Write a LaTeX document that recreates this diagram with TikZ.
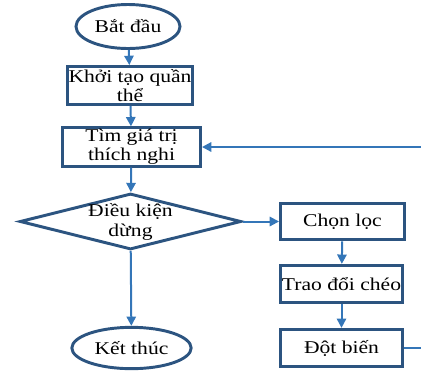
\documentclass[tikz,border=0pt]{standalone}
\usepackage{fontspec}
\setmainfont{Liberation Serif}[FakeStretch=1.2]
\usetikzlibrary{shapes.geometric,arrows.meta}

\definecolor{boxblue}{RGB}{44,84,128}
\definecolor{flowblue}{RGB}{52,118,184}

\tikzset{
  stepbox/.style={draw=boxblue, line width=2.2pt, rectangle, inner sep=1pt, align=center,
    font=\fontsize{13.5}{14.5}\selectfont},
  termbox/.style={draw=boxblue, line width=2.2pt, ellipse, inner sep=1pt,
    font=\fontsize{13.5}{14.5}\selectfont},
  flow/.style={draw=flowblue, line width=1.5pt, -{Triangle[width=7pt,length=7pt]}},
}

\begin{document}
\begin{tikzpicture}[x=0.75pt,y=0.75pt,yscale=-1,xscale=1]
                        \useasboundingbox (0,0) rectangle (421,376);

                        % Terminal Node
                        \node [termbox, minimum width=78pt, minimum height=33pt] (start) at (128,26.5) {Bắt đầu};
                        % Step Node
                        \node [stepbox, minimum width=92pt, minimum height=28.5pt] (init) at (130,85.5) {Khởi tạo quần\\thể};
                        % Step Node
                        \node [stepbox, minimum width=103.5pt, minimum height=28pt] (fitness) at (131.5,147) {Tìm giá trị\\thích nghi};
                        % Diamond
                        \node [diamond, draw=boxblue, line width=2.2pt, inner sep=0pt, minimum width=166pt, minimum height=42pt] (cond) at (130.5,221.5) {};
                        % Text Node
                        \node [align=center, font=\fontsize{13.5}{14.5}\selectfont] (condtext) at (130.5,222) {Điều kiện\\dừng};
                        % Terminal Node
                        \node [termbox, minimum width=89.5pt, minimum height=31pt] (stop) at (131.5,348) {Kết thúc};

                        % Step Node
                        \node [stepbox, minimum width=93pt, minimum height=27.5pt] (select) at (342.5,221.5) {Chọn lọc};
                        % Step Node
                        \node [stepbox, minimum width=92pt, minimum height=28pt] (cross) at (341.5,284) {Trao đổi chéo};
                        % Step Node
                        \node [stepbox, minimum width=92pt, minimum height=28pt] (mutate) at (341.5,348) {Đột biến};

                        % Connectors
                        \draw [flow] (start) -- (init);
                        \draw [flow] (init) -- (fitness);
                        \draw [flow] (fitness) -- (cond);
                        \draw [flow] (cond) -- (stop);
                        \draw [flow] (cond) -- (select);
                        \draw [flow] (select) -- (cross);
                        \draw [flow] (cross) -- (mutate);
                        \draw [flow] (mutate.east) -- ++(30,0) |- (fitness.east);
                  \end{tikzpicture}
\end{document}
